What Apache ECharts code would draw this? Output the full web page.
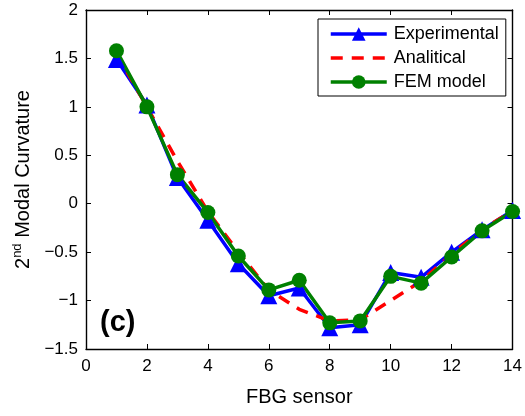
<!DOCTYPE html>
<html>
<head>
<meta charset="utf-8">
<script src="https://cdn.jsdelivr.net/npm/echarts@6/dist/echarts.min.js"></script>
<style>
  html, body { margin: 0; padding: 0; background: #fff; }
  #chart { width: 525px; height: 416px; }
</style>
</head>
<body>
<div id="chart"></div>
<script>
const sensors = [1, 2, 3, 4, 5, 6, 7, 8, 9, 10, 11, 12, 13, 14]
const experimental = [1.49, 1.02, 0.27, -0.17, -0.62, -0.95, -0.87, -1.28, -1.25, -0.71, -0.76, -0.50, -0.27, -0.07]
const analitical = [1.55, 1.00, 0.44, -0.08, -0.50, -0.89, -1.09, -1.21, -1.20, -1.00, -0.80, -0.52, -0.27, -0.07]
const femModel = [1.58, 1.00, 0.30, -0.09, -0.54, -0.89, -0.79, -1.23, -1.21, -0.75, -0.82, -0.55, -0.28, -0.08]

const pairs = values => sensors.map((s, i) => [s, values[i]])
const fontFamily = '"Liberation Sans", Arial, sans-serif'

const chart = echarts.init(document.getElementById('chart'))

const tickStyle = { show: true, inside: true, length: 5, lineStyle: { color: '#000', width: 1 } }
const lineStyleAxis = { show: true, onZero: false, lineStyle: { color: '#000', width: 1.4 } }

const option = {
  animation: false,
  textStyle: { fontFamily },
  grid: { left: 86, right: 9, top: 10, bottom: 67 },
  legend: {
    orient: 'vertical',
    left: 318,
    top: 19,
    padding: [6, 7, 5, 11],
    itemGap: 6,
    itemWidth: 56,
    itemHeight: 17,
    borderColor: '#000',
    borderWidth: 1,
    backgroundColor: '#fff',
    textStyle: { fontSize: 18, color: '#000', fontFamily, padding: [0, 0, 0, 2] },
    data: [
      { name: 'Experimental', lineStyle: { width: 3.5 } },
      { name: 'Analitical', lineStyle: { width: 3.5 }, itemStyle: { opacity: 0 } },
      { name: 'FEM model', lineStyle: { width: 3.5 } }
    ]
  },
  xAxis: [
    {
      type: 'value',
      min: 0,
      max: 14,
      interval: 2,
      name: 'FBG sensor',
      nameLocation: 'middle',
      nameGap: 38,
      nameTextStyle: { fontSize: 20, color: '#000', fontFamily },
      axisLine: lineStyleAxis,
      axisTick: tickStyle,
      axisLabel: { fontSize: 17, color: '#000', margin: 9, fontFamily },
      splitLine: { show: false }
    },
    {
      type: 'value',
      position: 'top',
      min: 0,
      max: 14,
      interval: 2,
      axisLine: lineStyleAxis,
      axisTick: tickStyle,
      axisLabel: { show: false },
      splitLine: { show: false }
    }
  ],
  yAxis: [
    {
      type: 'value',
      min: -1.5,
      max: 2,
      interval: 0.5,
      name: '{b|2}{s|nd}{b| Modal Curvature}',
      nameLocation: 'middle',
      nameRotate: 90,
      nameGap: 53,
      nameTextStyle: {
        color: '#000',
        fontFamily,
        rich: {
          b: { fontSize: 20, color: '#000', fontFamily, lineHeight: 22, verticalAlign: 'bottom' },
          s: { fontSize: 13, color: '#000', fontFamily, lineHeight: 22, verticalAlign: 'top' }
        }
      },
      axisLine: lineStyleAxis,
      axisTick: tickStyle,
      axisLabel: {
        fontSize: 17,
        color: '#000',
        margin: 8,
        fontFamily,
        formatter: v => String(v).replace('-', '\u2212')
      },
      splitLine: { show: false }
    },
    {
      type: 'value',
      position: 'right',
      min: -1.5,
      max: 2,
      interval: 0.5,
      axisLine: lineStyleAxis,
      axisTick: tickStyle,
      axisLabel: { show: false },
      splitLine: { show: false }
    }
  ],
  graphic: [
    {
      type: 'text',
      left: 100,
      top: 308,
      style: { text: '(c)', fontSize: 29, fontWeight: 'bold', fill: '#000', fontFamily }
    }
  ],
  series: [
    {
      name: 'Experimental',
      type: 'line',
      data: pairs(experimental),
      symbol: 'triangle',
      symbolSize: 17,
      lineStyle: { color: '#0000ff', width: 3.5 },
      itemStyle: { color: '#0000ff' }
    },
    {
      name: 'Analitical',
      type: 'line',
      data: pairs(analitical),
      symbol: 'none',
      lineStyle: { color: '#ff0000', width: 3.5, type: [12, 9] },
      itemStyle: { color: '#ff0000' }
    },
    {
      name: 'FEM model',
      type: 'line',
      data: pairs(femModel),
      symbol: 'circle',
      symbolSize: 15,
      lineStyle: { color: '#008000', width: 3.5 },
      itemStyle: { color: '#008000' }
    }
  ]
}

chart.setOption(option)
</script>
</body>
</html>
